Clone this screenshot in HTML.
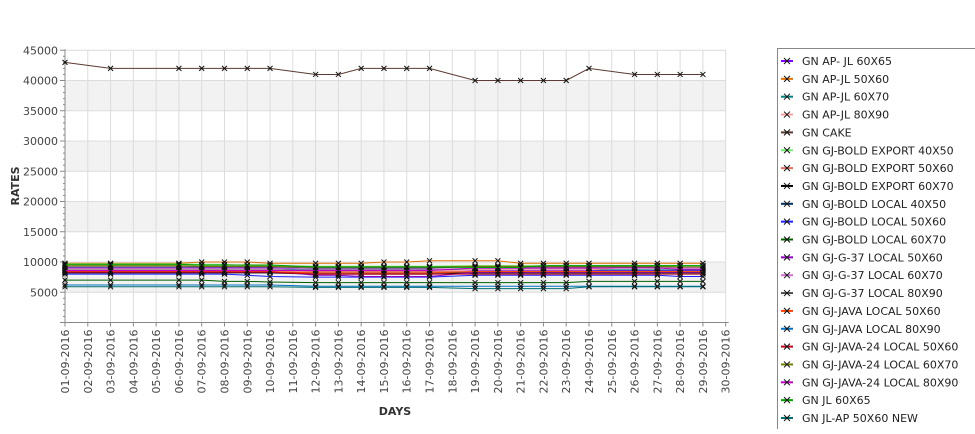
<!DOCTYPE html>
<html><head><meta charset="utf-8"><style>
body{margin:0;background:#fff;font-family:"Liberation Sans","DejaVu Sans",sans-serif;}
svg text{font-family:"DejaVu Sans","Liberation Sans",sans-serif;}
</style></head><body>
<svg id="c" width="975" height="429" viewBox="0 0 975 429"></svg>
<script>
const days=[1,3,6,7,8,9,10,12,13,14,15,16,17,19,20,21,22,23,24,26,27,28,29];
const yTicks=[5000,10000,15000,20000,25000,30000,35000,40000,45000];
const seriesNames=["GN AP- JL 60X65","GN AP-JL 50X60","GN AP-JL 60X70","GN AP-JL 80X90","GN CAKE","GN GJ-BOLD EXPORT 40X50","GN GJ-BOLD EXPORT 50X60","GN GJ-BOLD EXPORT 60X70","GN GJ-BOLD LOCAL 40X50","GN GJ-BOLD LOCAL 50X60","GN GJ-BOLD LOCAL 60X70","GN GJ-G-37 LOCAL 50X60","GN GJ-G-37 LOCAL 60X70","GN GJ-G-37 LOCAL 80X90","GN GJ-JAVA LOCAL 50X60","GN GJ-JAVA LOCAL 80X90","GN GJ-JAVA-24 LOCAL 50X60","GN GJ-JAVA-24 LOCAL 60X70","GN GJ-JAVA-24 LOCAL 80X90","GN JL 60X65","GN JL-AP 50X60 NEW"];
const seriesColors=["#8000ff","#e07000","#008080","#ff9f9f","#5a3a32","#70ee70","#e07060","#000000","#003060","#2020ff","#006000","#9000c0","#d070d0","#505050","#ff4000","#0070c0","#c00020","#708000","#c000c0","#00a000","#007070"];
const s0=[9000,9000,9000,9000,9000,9000,9000,8800,8800,8800,8800,8800,8800,8600,8600,8600,8600,8600,8600,8600,8600,8600,8600];
const s1=[9800,9800,9800,10000,10000,10000,9800,9800,9800,9800,10000,10000,10200,10200,10200,9800,9800,9800,9800,9800,9800,9800,9800];
const s2=[8800,8800,8800,8800,8800,8800,8800,8700,8700,8700,8700,8700,8700,8700,8700,8700,8700,8700,8700,8700,8700,8700,8700];
const s3=[8700,8700,8700,8700,8700,8700,8700,8500,8500,8500,8500,8500,8500,8700,8700,8700,8700,8700,8700,9200,9200,9000,9000];
const s4=[43000,42000,42000,42000,42000,42000,42000,41000,41000,42000,42000,42000,42000,40000,40000,40000,40000,40000,42000,41000,41000,41000,41000];
const s5=[9700,9700,9700,9600,9600,9400,9400,9300,9300,9300,9300,9300,9300,9400,9400,9400,9400,9400,9400,9400,9400,9400,9400];
const s6=[8600,8600,8600,8600,8600,8600,8600,8400,8400,8400,8400,8400,8400,8400,8400,8400,8400,8400,8400,8400,8400,8400,8400];
const s7=[8200,8200,8200,8200,8200,8200,8200,8000,8000,8000,8000,8000,8000,8200,8200,8200,8200,8200,8200,8200,8200,8200,8200];
const s8=[8300,8300,8300,8300,8300,8300,8300,8200,8200,8200,8200,8200,8200,8300,8300,8300,8300,8300,8300,8300,8300,8300,8300];
const s9=[8000,8000,8000,8000,8000,7800,7600,7500,7500,7500,7500,7500,7500,7800,7800,7800,7800,7800,7800,7800,7800,7600,7600];
const s10=[7000,7000,7000,7000,6800,6800,6700,6600,6600,6600,6600,6600,6600,6600,6600,6600,6600,6600,6800,6800,6800,6800,6800];
const s11=[8500,8500,8500,8500,8500,8500,8500,7800,7800,7600,7600,7600,7600,8300,8300,8300,8300,8300,8300,8300,8300,8300,8300];
const s12=[8900,8900,8900,8900,8900,8900,8900,8800,8800,8800,8800,8800,8800,8900,8900,8900,8900,8900,8900,9200,9200,9000,9000];
const s13=[9200,9200,9200,9200,9200,9200,9200,9000,9000,9000,9000,9000,9000,9200,9200,9200,9200,9200,9200,9200,9200,9200,9200];
const s14=[8400,8400,8400,8400,8400,8400,8400,8200,8200,8200,8200,8200,8200,8400,8400,8400,8400,8400,8400,8400,8400,8400,8400];
const s15=[6200,6200,6200,6200,6200,6200,6200,6000,6000,6000,6000,6000,6000,6000,6000,6000,6000,6000,6000,6000,6000,6000,6000];
const s16=[8300,8300,8300,8300,8300,8300,8300,8000,8000,8000,8000,8000,8000,8000,8000,8000,8000,8000,8000,8000,8000,8000,8000];
const s17=[9400,9400,9400,9300,9300,9300,9300,9200,9200,9200,9200,9200,9200,9300,9300,9300,9300,9300,9300,9300,9300,9200,9200];
const s18=[8600,8600,8600,8600,8600,8600,8600,8600,8600,8600,8600,8600,8600,9000,9000,9000,9000,9000,9000,9000,9000,8800,8800];
const s19=[9600,9600,9600,9500,9500,9500,9500,9200,9200,9200,9200,9200,9200,9100,9100,9100,9400,9400,9400,9400,9400,9400,9400];
const s20=[5900,5900,5900,5900,5900,5900,5900,5800,5800,5800,5800,5800,5800,5600,5600,5600,5600,5600,5900,5900,5900,5900,5900];
const seriesValues=[s0,s1,s2,s3,s4,s5,s6,s7,s8,s9,s10,s11,s12,s13,s14,s15,s16,s17,s18,s19,s20];

const X0=65,X1=725.7,Y0=322.5,PER=30.25/5000;
const xS=d=>X0+(d-1)*(X1-X0)/29;
const yS=v=>Y0-v*PER;
const svg=document.getElementById('c');
const NS='http://www.w3.org/2000/svg';
function mk(t,a,parent){const e=document.createElementNS(NS,t);for(const k in a)e.setAttribute(k,a[k]);(parent||svg).appendChild(e);return e;}

// bands
for(let b=5000;b<45000;b+=10000){
  const r=mk('rect',{x:X0,y:yS(b+5000),width:X1-X0,height:yS(b)-yS(b+5000),fill:'#f2f2f2'});
  
  
}
// grid
for(const t of yTicks){
  const l=mk('line',{x1:X0,x2:X1,y1:yS(t),y2:yS(t),stroke:'#dcdcdc','stroke-width':1});
  
  
}
for(let d=1;d<=30;d++){
  const l=mk('line',{x1:xS(d),x2:xS(d),y1:yS(45000),y2:Y0,stroke:'#dcdcdc','stroke-width':1});
  
  
}
// axes
const ya=mk('line',{x1:X0,x2:X0,y1:yS(45000)-1,y2:Y0,stroke:'#888'});


const xa=mk('line',{x1:X0-5,x2:X1+3,y1:Y0,y2:Y0,stroke:'#888'});


for(let v=0;v<=45000;v+=1000){
  const big=v%5000===0;
  const tk=mk('line',{x1:X0-(big?5:2),x2:X0,y1:yS(v),y2:yS(v),stroke:'#888'});
  
  
}
for(const t of yTicks){
  const tx=mk('text',{x:X0-7,y:yS(t)+4,'text-anchor':'end','font-size':11,fill:'#444'});
  tx.textContent=t;
  
  
}
for(let d=1;d<=30;d++){
  const tk=mk('line',{x1:xS(d),x2:xS(d),y1:Y0,y2:Y0+4,stroke:'#888'});
  
  
  const tx=mk('text',{x:0,y:0,'text-anchor':'end','font-size':11,fill:'#444',transform:`translate(${xS(d)+4},${Y0+7}) rotate(-90)`});
  tx.textContent=String(d).padStart(2,'0')+'-09-2016';
  
  
}
const xt=mk('text',{x:395,y:415,'text-anchor':'middle','font-size':11,'font-weight':'bold',fill:'#333'});
xt.textContent='DAYS';


const yt=mk('text',{x:0,y:0,'text-anchor':'middle','font-size':11,'font-weight':'bold',fill:'#333',transform:'translate(19,186) rotate(-90)'});
yt.textContent='RATES';



// series
seriesValues.forEach((vals,i)=>{
  const g=mk('g',{});
  
  
  const p=mk('polyline',{points:vals.map((v,j)=>xS(days[j])+','+yS(v)).join(' '),fill:'none',stroke:seriesColors[i],'stroke-width':1},g);
  
  
  vals.forEach((v,j)=>{
    const x=xS(days[j]),y=yS(v);
    const m=mk('path',{d:`M${x-2.5},${y-2.5}L${x+2.5},${y+2.5}M${x-2.5},${y+2.5}L${x+2.5},${y-2.5}`,stroke:'#111','stroke-width':1},g);
    
    
  });
});

// legend
const lg=mk('g',{});


const lb=mk('rect',{x:777.5,y:48.5,width:200,height:390,fill:'#fff',stroke:'#888'},lg);


seriesNames.forEach((n,i)=>{
  const y=61+i*17.85;
  const e=mk('g',{},lg);
  
  
  mk('line',{x1:781,x2:793,y1:y,y2:y,stroke:seriesColors[i],'stroke-width':2},e);
  mk('path',{d:`M784,${y-3}L790,${y+3}M784,${y+3}L790,${y-3}`,stroke:'#111'},e);
  const t=mk('text',{x:802,y:y+4,'font-size':11,fill:'#222'},e);
  t.textContent=n;
});
</script>
</body></html>
